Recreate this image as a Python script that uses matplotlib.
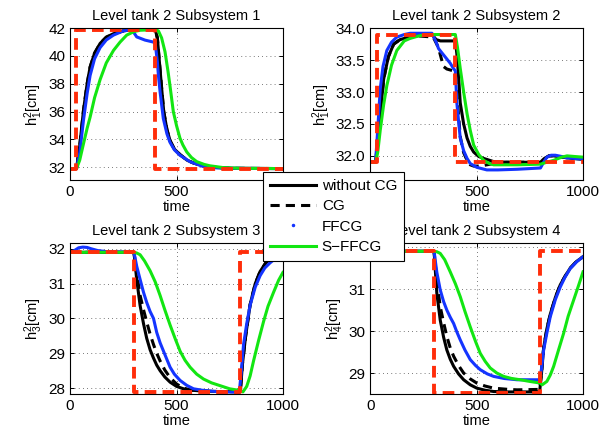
import matplotlib
matplotlib.use("Agg")
import matplotlib.pyplot as plt
from matplotlib.lines import Line2D

plt.rcParams['font.family'] = ['Liberation Sans', 'DejaVu Sans']
plt.rcParams['mathtext.fontset'] = 'custom'
plt.rcParams['mathtext.rm'] = 'Liberation Sans'

# colours of the four controllers + reference
c_ref = '#ff2d0a'
c_blue = '#1434ff'
c_green = '#12e612'

# ---------------- Subsystem 1 ----------------
ref1_t = [0, 30, 30, 400, 400, 1000]
ref1_h = [31.9, 31.9, 41.9, 41.9, 31.9, 31.9]

nocg1_t = [0, 30, 45, 63, 80, 94, 115, 141, 170, 204, 250, 297, 400, 410, 420, 430, 440, 455, 470, 490, 517,
           550, 580, 630, 690, 760, 1000]
nocg1_h = [31.9, 31.9, 33.5, 36.1, 38.0, 39.2, 40.2, 40.9, 41.35, 41.6, 41.8, 41.9, 41.9, 41.3, 39.5, 37.7, 36.0,
           34.7, 33.9, 33.3, 32.9, 32.5, 32.3, 32.08, 31.98, 31.92, 31.9]
cg1_t = nocg1_t
cg1_h = nocg1_h
ffcg1_t = [0, 30, 45, 63, 80, 94, 115, 141, 170, 204, 250, 290, 313, 352, 391, 400, 410, 415, 423, 438, 455, 469,
           490, 516, 563, 625, 690, 760, 1000]
ffcg1_h = [31.9, 31.9, 33.0, 35.4, 37.3, 38.6, 39.8, 40.6, 41.15, 41.5, 41.8, 41.9, 41.37, 41.14, 41.0, 40.9, 39.6,
           38.6, 37.4, 35.5, 34.4, 33.8, 33.25, 32.86, 32.4, 32.05, 31.95, 31.92, 31.9]
sffcg1_t = [0, 30, 45, 63, 80, 94, 115, 141, 170, 204, 235, 266, 300, 329, 400, 415, 430, 446, 460, 469, 485, 500,
            516, 530, 548, 570, 595, 630, 657, 720, 800, 1000]
sffcg1_h = [31.9, 31.9, 32.5, 33.7, 34.8, 35.6, 37.0, 38.3, 39.5, 40.4, 41.0, 41.5, 41.75, 41.85, 41.9, 41.8, 41.3,
            40.3, 38.9, 37.9, 36.0, 35.0, 34.1, 33.6, 33.1, 32.7, 32.4, 32.2, 32.1, 31.97, 31.92, 31.9]

# ---------------- Subsystem 2 ----------------
ref2_t = [0, 30, 30, 400, 400, 1000]
ref2_h = [31.9, 31.9, 33.9, 33.9, 31.9, 31.9]

nocg2_t = [0, 25, 40, 63, 85, 110, 140, 172, 220, 290, 310, 330, 400, 407, 415, 423, 439, 455, 470, 486, 510, 533,
           580, 640, 800, 815, 840, 862, 900, 950, 1000]
nocg2_h = [31.9, 31.9, 32.4, 33.2, 33.55, 33.75, 33.82, 33.85, 33.88, 33.9, 33.82, 33.8, 33.8, 33.6, 33.25, 32.83,
           32.5, 32.28, 32.15, 32.06, 31.99, 31.96, 31.91, 31.9, 31.9, 31.95, 32.0, 32.0, 31.98, 31.96, 31.95]
cg2_t = [0, 25, 40, 63, 85, 110, 140, 172, 220, 296, 320, 344, 360, 392, 400, 407, 415, 423, 439, 455, 470, 486,
         510, 533, 548, 580, 640, 800, 815, 840, 862, 900, 950, 1000]
cg2_h = [31.9, 31.9, 32.4, 33.2, 33.55, 33.75, 33.82, 33.85, 33.88, 33.86, 33.7, 33.4, 33.36, 33.33, 33.28, 32.95,
         32.65, 32.3, 32.05, 31.93, 31.86, 31.84, 31.84, 31.85, 31.86, 31.88, 31.9, 31.9, 31.95, 32.0, 32.0, 31.98,
         31.96, 31.95]
ffcg2_t = [0, 25, 35, 47, 60, 78, 100, 125, 160, 188, 240, 290, 310, 321, 340, 352, 376, 391, 400, 407, 415, 423,
           439, 455, 470, 501, 548, 600, 690, 800, 815, 830, 850, 870, 900, 925, 960, 1000]
ffcg2_h = [31.9, 31.9, 32.4, 33.05, 33.4, 33.65, 33.78, 33.86, 33.9, 33.92, 33.92, 33.92, 33.78, 33.68, 33.6, 33.55,
           33.45, 33.37, 33.33, 32.83, 32.55, 32.28, 32.08, 31.96, 31.88, 31.82, 31.78, 31.78, 31.79, 31.81, 31.9,
           31.98, 32.01, 32.01, 31.99, 31.97, 31.96, 31.95]
sffcg2_t = [0, 25, 35, 47, 63, 78, 100, 125, 160, 188, 230, 266, 400, 410, 423, 439, 455, 470, 486, 510, 533, 560,
            580, 690, 800, 830, 862, 900, 925, 960, 1000]
sffcg2_h = [31.9, 31.9, 32.05, 32.4, 32.8, 33.1, 33.42, 33.65, 33.8, 33.84, 33.88, 33.9, 33.9, 33.7, 33.37, 33.0,
            32.66, 32.4, 32.17, 32.02, 31.93, 31.88, 31.86, 31.86, 31.87, 31.9, 31.93, 31.98, 32.0, 31.99, 31.98]

# ---------------- Subsystem 3 ----------------
ref3_t = [0, 300, 300, 800, 800, 1000]
ref3_h = [31.9, 31.9, 27.88, 27.88, 31.9, 31.9]

nocg3_t = [0, 300, 313, 329, 345, 360, 376, 392, 407, 423, 445, 470, 500, 533, 570, 611, 700, 800, 810, 825, 846,
           870, 893, 920, 940, 970, 1000]
nocg3_h = [31.9, 31.9, 31.12, 30.37, 29.85, 29.43, 29.1, 28.86, 28.66, 28.5, 28.32, 28.17, 28.05, 27.98, 27.94,
           27.92, 27.9, 27.9, 28.7, 29.5, 30.4, 31.0, 31.35, 31.6, 31.72, 31.82, 31.86]
cg3_t = nocg3_t
cg3_h = [31.9, 31.9, 31.3, 30.66, 30.25, 29.9, 29.55, 29.25, 29.0, 28.78, 28.52, 28.3, 28.12, 28.0, 27.94, 27.92,
         27.9, 27.9, 28.7, 29.5, 30.4, 31.0, 31.35, 31.6, 31.72, 31.82, 31.86]
ffcg3_t = [0, 20, 40, 60, 80, 100, 130, 170, 300, 313, 329, 345, 360, 376, 392, 407, 423, 439, 455, 470, 490, 517,
           548, 580, 630, 690, 795, 805, 815, 830, 846, 870, 893, 915, 940, 970, 1000]
ffcg3_h = [31.9, 31.95, 32.03, 32.05, 32.04, 32.0, 31.95, 31.92, 31.9, 31.5, 31.12, 30.75, 30.46, 30.2, 30.0, 29.6,
           29.3, 29.06, 28.82, 28.6, 28.4, 28.22, 28.08, 27.98, 27.93, 27.9, 27.88, 28.5, 29.25, 29.85, 30.38, 30.9,
           31.23, 31.45, 31.6, 31.75, 31.84]
sffcg3_t = [0, 300, 313, 329, 350, 376, 400, 423, 445, 470, 495, 517, 540, 564, 595, 627, 665, 705, 750, 800, 812,
            830, 846, 862, 885, 909, 930, 956, 980, 1000]
sffcg3_h = [31.9, 31.9, 31.88, 31.83, 31.65, 31.37, 31.05, 30.66, 30.25, 29.81, 29.4, 29.06, 28.8, 28.6, 28.4,
            28.26, 28.15, 28.07, 27.98, 27.93, 27.89, 28.05, 28.35, 28.78, 29.35, 29.91, 30.35, 30.75, 31.1, 31.32]

# ---------------- Subsystem 4 ----------------
ref4_t = [0, 300, 300, 800, 800, 1000]
ref4_h = [31.9, 31.9, 28.52, 28.52, 31.9, 31.9]

nocg4_t = [0, 300, 313, 329, 345, 360, 376, 392, 415, 439, 470, 501, 540, 580, 650, 796, 805, 815, 830, 846, 870,
           893, 915, 940, 970, 1000]
nocg4_h = [31.9, 31.9, 30.9, 30.26, 29.85, 29.55, 29.33, 29.16, 28.98, 28.84, 28.72, 28.64, 28.59, 28.56, 28.55,
           28.55, 29.0, 29.6, 30.05, 30.4, 30.8, 31.1, 31.3, 31.5, 31.66, 31.77]
cg4_t = [0, 300, 313, 329, 345, 360, 376, 392, 415, 439, 470, 501, 540, 580, 650, 690, 796, 805, 815, 830, 846, 870,
         893, 915, 940, 970, 1000]
cg4_h = [31.9, 31.9, 31.2, 30.58, 30.2, 29.87, 29.6, 29.4, 29.18, 29.0, 28.86, 28.76, 28.69, 28.64, 28.61, 28.6,
         28.61, 29.0, 29.6, 30.05, 30.4, 30.8, 31.1, 31.3, 31.5, 31.66, 31.77]
ffcg4_t = [0, 300, 313, 329, 345, 360, 376, 392, 407, 423, 445, 470, 495, 517, 550, 580, 630, 690, 796, 805, 815,
           830, 846, 870, 893, 915, 940, 970, 1000]
ffcg4_h = [31.9, 31.9, 31.4, 30.98, 30.7, 30.5, 30.33, 30.18, 29.98, 29.79, 29.55, 29.32, 29.18, 29.08, 28.98,
           28.92, 28.87, 28.84, 28.84, 29.1, 29.55, 29.95, 30.34, 30.75, 31.05, 31.28, 31.49, 31.65, 31.77]
sffcg4_t = [0, 300, 313, 329, 350, 376, 400, 423, 445, 470, 495, 517, 540, 564, 595, 627, 665, 705, 750, 800, 808,
            830, 846, 862, 885, 909, 930, 956, 980, 1000]
sffcg4_h = [31.9, 31.9, 31.89, 31.85, 31.7, 31.41, 31.13, 30.82, 30.47, 30.1, 29.75, 29.47, 29.28, 29.12, 29.0,
            28.92, 28.87, 28.84, 28.8, 28.76, 28.72, 28.8, 28.95, 29.16, 29.55, 29.95, 30.35, 30.74, 31.1, 31.41]

titles = ['Level tank 2 Subsystem 1', 'Level tank 2 Subsystem 2',
          'Level tank 2 Subsystem 3', 'Level tank 2 Subsystem 4']
ylabels = [r'h$\mathregular{^2_1}$[cm]', r'h$\mathregular{^2_1}$[cm]',
           r'h$\mathregular{^2_3}$[cm]', r'h$\mathregular{^2_4}$[cm]']
ylims = [(31.07, 42), (31.62, 34), (27.83, 32.17), (28.5, 32.1)]
yticks = [[32, 34, 36, 38, 40, 42], [32, 32.5, 33, 33.5, 34], [28, 29, 30, 31, 32], [29, 30, 31, 32]]
xticks = [0, 500, 1000]

panels = [
    (ref1_t, ref1_h, nocg1_t, nocg1_h, cg1_t, cg1_h, ffcg1_t, ffcg1_h, sffcg1_t, sffcg1_h),
    (ref2_t, ref2_h, nocg2_t, nocg2_h, cg2_t, cg2_h, ffcg2_t, ffcg2_h, sffcg2_t, sffcg2_h),
    (ref3_t, ref3_h, nocg3_t, nocg3_h, cg3_t, cg3_h, ffcg3_t, ffcg3_h, sffcg3_t, sffcg3_h),
    (ref4_t, ref4_h, nocg4_t, nocg4_h, cg4_t, cg4_h, ffcg4_t, ffcg4_h, sffcg4_t, sffcg4_h),
]

# axes boxes in figure fractions (left, bottom, width, height)
boxes = [(0.114, 0.584, 0.346, 0.351), (0.602, 0.584, 0.346, 0.351),
         (0.114, 0.090, 0.346, 0.349), (0.602, 0.090, 0.346, 0.349)]

fig = plt.figure(figsize=(6.15, 4.33), dpi=100)

for i in range(4):
    ref_t, ref_h, a_t, a_h, b_t, b_h, c_t, c_h, d_t, d_h = panels[i]
    ax = fig.add_axes(boxes[i])
    ax.plot(a_t, a_h, color='k', lw=2.2)
    ax.plot(b_t, b_h, color='k', lw=2.2, ls=(0, (3, 2)))
    ax.plot(c_t, c_h, color=c_blue, lw=2.2)
    ax.plot(d_t, d_h, color=c_green, lw=2.2)
    ax.plot(ref_t, ref_h, color=c_ref, lw=2.8, ls=(0, (3, 1.6)))
    ax.set_xlim(0, 1000)
    ax.set_ylim(*ylims[i])
    ax.set_xticks(xticks)
    ax.set_yticks(yticks[i])
    ax.grid(True, color='0.3', ls=(0, (1, 4)), lw=0.6)
    ax.tick_params(direction='in', top=True, right=True, length=3, labelsize=11, width=0.7)
    for s in ax.spines.values():
        s.set_linewidth(0.8)
    ax.set_title(titles[i], fontsize=10.5, pad=6)
    ax.set_xlabel('time', fontsize=10.5, labelpad=1)
    ax.set_ylabel(ylabels[i], fontsize=10.5, labelpad=2)

handles = [Line2D([], [], color='k', lw=2.2),
           Line2D([], [], color='k', lw=2.2, ls=(0, (3, 2))),
           Line2D([], [], color=c_blue, marker='.', ls='none', markersize=3),
           Line2D([], [], color=c_green, lw=2.2)]
labels = ['without CG', 'CG', 'FFCG', 'S\u2212FFCG']
leg = fig.legend(handles, labels, loc='upper left', bbox_to_anchor=(263 / 615, 1 - 172 / 433),
                 borderaxespad=0, fontsize=11, handlelength=3.0, handletextpad=0.4,
                 labelspacing=0.42, borderpad=0.45, fancybox=False, framealpha=1, edgecolor='k')
leg.get_frame().set_linewidth(0.8)

fig.savefig('out.png', dpi=100)
